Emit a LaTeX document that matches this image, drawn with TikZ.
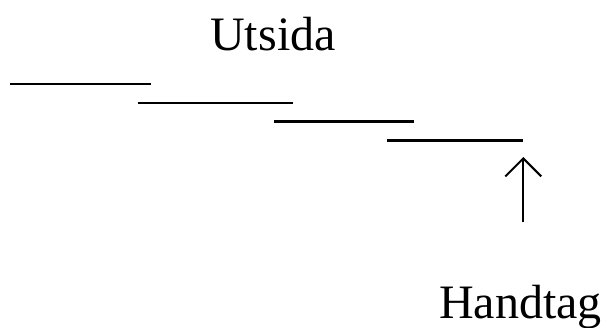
\documentclass[tikz,border=0pt]{standalone}
\usepackage{fontspec}
\setmainfont{Liberation Serif}
\usetikzlibrary{arrows.meta}
\begin{document}
\begin{tikzpicture}[x=1pt,y=-1pt,
  stair/.style={line width=2.4pt},
  lbl/.style={inner sep=0pt,anchor=base,font=\fontsize{48}{48}\selectfont},
  pointer/.style={line width=2pt,-{Straight Barb[length=18pt,width=36pt,line width=2pt]}}]
\useasboundingbox (0,0) rectangle (603,327);
\node[lbl] (utsida) at (273,50) {Utsida};
\node[lbl] (handtag) at (520.5,318) {Handtag};
\draw[stair] (9.5,84) coordinate (s1a) -- (151,84) coordinate (s1b);
\draw[stair] (138,102.7) coordinate (s2a) -- (293,102.7) coordinate (s2b);
\draw[stair] (274,121.3) coordinate (s3a) -- (414,121.3) coordinate (s3b);
\draw[stair] (387,140.3) coordinate (s4a) -- (523,140.3) coordinate (s4b);
\coordinate (abot) at (523.3,222);
\coordinate (atip) at (523.3,157);
\draw[pointer] (abot) -- (atip);
\end{tikzpicture}
\end{document}
